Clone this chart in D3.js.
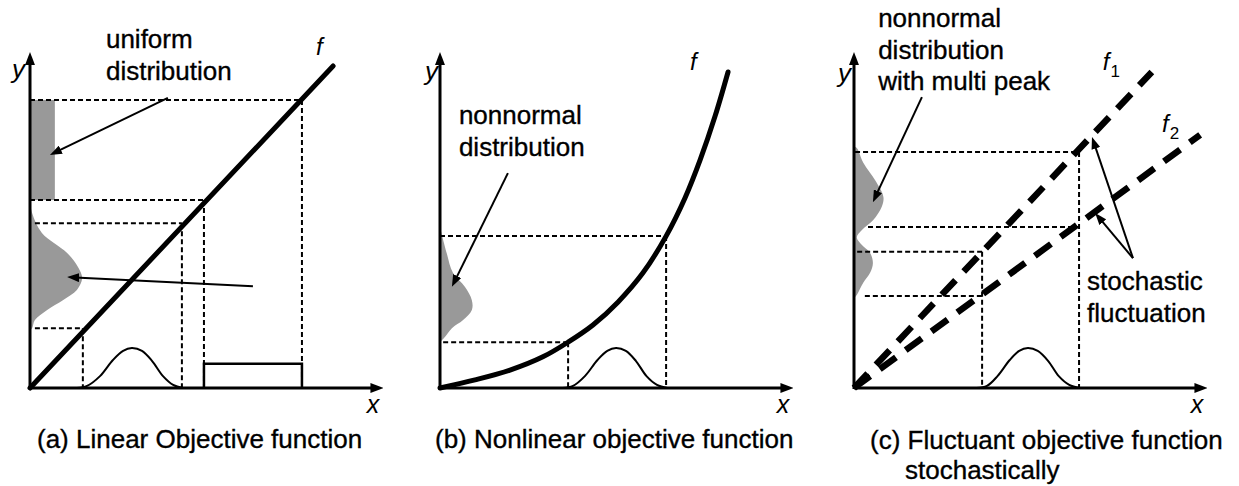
<!DOCTYPE html>
<html>
<head>
<meta charset="utf-8">
<script src="https://cdn.jsdelivr.net/npm/d3@7"></script>
<style>
  body { margin: 0; background: #fff; }
  text { font-family: "Liberation Sans", Arial, sans-serif; fill: #000; }
  text.heavy { stroke: #000; stroke-width: 0.35px; }
</style>
</head>
<body>
<svg id="chart"></svg>
<script>
// ---- data (panel units: 0..10 on both axes) ----
// (a) linear objective function
const fLineA = [[0, 0], [8.66, 9.2]];
const uniformYA = [5.37, 8.23, 0.71];          // y from, y to, density width
const bellYA = [[5.37, 0], [5.0, 0.06], [4.43, 0.34], [3.86, 1.06], [3.46, 1.37], [3.14, 1.49],
                [2.8, 1.34], [2.51, 0.94], [2.23, 0.49], [1.94, 0.14], [1.71, 0.06], [1.66, 0]];
const bellXA = [[1.34, 0], [1.63, 0.06], [2.0, 0.34], [2.37, 0.8], [2.66, 1.06], [2.91, 1.14],
                [3.2, 1.06], [3.49, 0.77], [3.8, 0.34], [4.09, 0.09], [4.37, 0]];
const uniformXA = [4.97, 7.77, 0.69];          // x from, x to, density height
const guidesA = [[7.77, 8.23, 0], [4.97, 5.37, 0], [4.34, 4.71, 0.14], [1.51, 1.71, 0.14]]; // x, y, start
const arrowsA = [[3.94, 8.29, 0.57, 6.66], [6.37, 2.91, 1.06, 3.17]];

// (b) nonlinear objective function
const curveB = [[0, 0], [1, 0.23], [2, 0.51], [2.94, 0.89], [3.66, 1.31], [4.37, 1.8], [5.09, 2.46],
                [5.8, 3.29], [6.46, 4.34], [7, 5.43], [7.43, 6.51], [7.86, 7.77], [8.23, 9.03]];
const bellYB = [[4.6, 0], [3.86, 0.19], [3.29, 0.37], [2.89, 0.71], [2.51, 0.91], [2.23, 0.91],
                [1.94, 0.66], [1.71, 0.34], [1.46, 0.14], [1.31, 0]];
const bellXB = [[3.5, 0], [3.8, 0.06], [4.14, 0.34], [4.5, 0.8], [4.78, 1.06], [5.03, 1.14],
                [5.31, 1.06], [5.6, 0.77], [5.9, 0.34], [6.2, 0.09], [6.5, 0]];
const guidesB = [[6.46, 4.34, 0], [3.66, 1.31, 0.09]];
const arrowsB = [[1.94, 6.14, 0.34, 2.89]];

// (c) fluctuant objective function
const f1C = [[0, 0], [8.51, 9.03]];
const f2C = [[0, 0], [9.89, 7.23]];
const bellYC = [[6.9, 0], [6.86, 0.08], [6.43, 0.27], [5.94, 0.6], [5.46, 0.84], [5.17, 0.79],
                [4.8, 0.55], [4.51, 0.22], [4.31, 0.08], [4.09, 0.22], [3.86, 0.46], [3.57, 0.54],
                [3.29, 0.46], [3.0, 0.26], [2.66, 0.08], [2.57, 0]];
const bellXC = [[3.5, 0], [3.8, 0.06], [4.1, 0.34], [4.45, 0.8], [4.72, 1.06], [4.97, 1.14],
                [5.25, 1.06], [5.55, 0.77], [5.85, 0.34], [6.15, 0.09], [6.45, 0]];
const guidesC = [[6.43, 6.74, 0.03], [6.43, 4.6, 0.4], [3.66, 3.89, 0.09], [3.66, 2.63, 0.31]];
const arrowsC = [[1.94, 8.31, 0.54, 5.31], [7.97, 3.71, 6.8, 7.17], [7.97, 3.71, 6.89, 5.0]];

// text labels: [x, y, lines...]
const notesA = [[2.17, 9.71, "uniform", "distribution"]];
const notesB = [[0.54, 7.54, "nonnormal", "distribution"]];
const notesC = [[0.69, 10.31, "nonnormal", "distribution", "with multi peak"],
                [6.66, 2.8, "stochastic", "fluctuation"]];
// captions: [x, y, lines as [dx, text]]
const captions = [
  [37, 448, [[0, "(a) Linear Objective function"]]],
  [435, 448, [[0, "(b) Nonlinear objective function"]]],
  [870, 449, [[0, "(c) Fluctuant objective function"], [35, "stochastically"]]]
];

const width = 1239;
const height = 486;

const svg = d3.select("#chart")
    .attr("width", width)
    .attr("height", height);

svg.append("rect").attr("width", width).attr("height", height).attr("fill", "#fff");

const defs = svg.append("defs");
defs.append("marker")
    .attr("id", "axisHead")
    .attr("markerUnits", "userSpaceOnUse")
    .attr("markerWidth", 13).attr("markerHeight", 10)
    .attr("refX", 4).attr("refY", 5)
    .attr("orient", "auto")
  .append("path").attr("d", "M0,0 L13,5 L0,10 Z").attr("fill", "#000");
defs.append("marker")
    .attr("id", "noteHead")
    .attr("markerUnits", "userSpaceOnUse")
    .attr("markerWidth", 12).attr("markerHeight", 9)
    .attr("refX", 4).attr("refY", 4.5)
    .attr("orient", "auto")
  .append("path").attr("d", "M0,0 L12,4.5 L0,9 Z").attr("fill", "#000");

function drawPanel(ox, p) {
  const xs = d3.scaleLinear().domain([0, 10]).range([ox, ox + 350]);
  const ys = d3.scaleLinear().domain([0, 10]).range([388, 38]);
  const g = svg.append("g");

  // gray densities on the y axis
  if (p.uniformY) {
    g.append("rect")
      .attr("x", xs(0)).attr("y", ys(p.uniformY[1]))
      .attr("width", xs(p.uniformY[2]) - xs(0))
      .attr("height", ys(p.uniformY[0]) - ys(p.uniformY[1]))
      .attr("fill", "#999");
  }
  g.append("path")
    .datum(p.bellY)
    .attr("fill", "#999")
    .attr("d", d3.area().curve(d3.curveCatmullRom)
      .y(d => ys(d[0])).x0(xs(0)).x1(d => xs(d[1])));

  // dashed guides: horizontal ones, then one vertical per x from its highest point
  const dashed = sel => sel.attr("stroke", "#000").attr("stroke-width", 2).attr("stroke-dasharray", "5,3");
  p.guides.forEach(([gx, gy, s]) => {
    g.append("line")
      .attr("x1", xs(s)).attr("y1", ys(gy)).attr("x2", xs(gx)).attr("y2", ys(gy))
      .call(dashed);
  });
  d3.rollups(p.guides, v => d3.max(v, d => d[1]), d => d[0]).forEach(([gx, top]) => {
    g.append("line")
      .attr("x1", xs(gx)).attr("y1", ys(top)).attr("x2", xs(gx)).attr("y2", ys(0))
      .call(dashed);
  });

  // density on the x axis
  g.append("path")
    .datum(p.bellX)
    .attr("fill", "none").attr("stroke", "#000").attr("stroke-width", 2)
    .attr("d", d3.line().curve(d3.curveCatmullRom).x(d => xs(d[0])).y(d => ys(d[1])));
  if (p.uniformX) {
    const [a, b, h] = p.uniformX;
    g.append("path")
      .attr("fill", "none").attr("stroke", "#000").attr("stroke-width", 2.5)
      .attr("d", `M${xs(a)},${ys(0)}V${ys(h)}H${xs(b)}V${ys(0)}`);
  }

  // axes
  g.append("line")
    .attr("x1", xs(0)).attr("y1", ys(0)).attr("x2", xs(10.07) - 8).attr("y2", ys(0))
    .attr("stroke", "#000").attr("stroke-width", 3).attr("marker-end", "url(#axisHead)");
  g.append("line")
    .attr("x1", xs(0)).attr("y1", ys(0) + 1).attr("x2", xs(0)).attr("y2", ys(9.57) + 8)
    .attr("stroke", "#000").attr("stroke-width", 3).attr("marker-end", "url(#axisHead)");

  // objective functions
  p.funcs.forEach(f => {
    g.append("path")
      .datum(f.data)
      .attr("fill", "none").attr("stroke", "#000")
      .attr("stroke-width", f.dash ? 6.5 : 5)
      .attr("stroke-linecap", f.dash ? "butt" : "round")
      .attr("stroke-dasharray", f.dash || null)
      .attr("d", d3.line().curve(d3.curveCatmullRom).x(d => xs(d[0])).y(d => ys(d[1])));
  });

  // annotation arrows
  p.arrows.forEach(([x1, y1, x2, y2]) => {
    const px1 = xs(x1), py1 = ys(y1), px2 = xs(x2), py2 = ys(y2);
    const len = Math.hypot(px2 - px1, py2 - py1);
    const ux = (px2 - px1) / len, uy = (py2 - py1) / len;
    g.append("line")
      .attr("x1", px1).attr("y1", py1)
      .attr("x2", px2 - ux * 8).attr("y2", py2 - uy * 8)
      .attr("stroke", "#000").attr("stroke-width", 2).attr("marker-end", "url(#noteHead)");
  });

  // notes
  p.notes.forEach(([nx, ny, ...lines]) => {
    const t = g.append("text").attr("class", "heavy").attr("font-size", 26);
    lines.forEach((ln, i) => {
      t.append("tspan").attr("x", xs(nx)).attr("y", ys(ny) + i * 31.5).text(ln);
    });
  });

  // axis letters
  g.append("text").attr("x", p.yLab[0]).attr("y", p.yLab[1])
    .attr("font-size", 26).attr("font-style", "italic").text("y");
  g.append("text").attr("x", xs(9.62)).attr("y", ys(-0.72))
    .attr("font-size", 25).attr("font-style", "italic").text("x");

  // function labels
  p.fLabels.forEach(([fx, fy, sub]) => {
    const t = g.append("text").attr("x", xs(fx)).attr("y", ys(fy))
      .attr("font-size", 24).attr("font-style", "italic");
    t.append("tspan").text("f");
    if (sub) t.append("tspan").attr("font-size", 17).attr("font-style", "normal")
      .attr("dx", 1).attr("dy", 7).text(sub);
  });
}

drawPanel(30, {
  uniformY: uniformYA, bellY: bellYA, bellX: bellXA, uniformX: uniformXA,
  guides: guidesA, arrows: arrowsA, notes: notesA,
  funcs: [{ data: fLineA }], fLabels: [[8.17, 9.51]], yLab: [12, 78]
});
drawPanel(440, {
  bellY: bellYB, bellX: bellXB, guides: guidesB, arrows: arrowsB, notes: notesB,
  funcs: [{ data: curveB }], fLabels: [[7.14, 9.09]], yLab: [425, 80]
});
drawPanel(854, {
  bellY: bellYC, bellX: bellXC, guides: guidesC, arrows: arrowsC, notes: notesC,
  funcs: [{ data: f1C, dash: "20,12" }, { data: f2C, dash: "20,12" }],
  fLabels: [[7.11, 9.09, "1"], [8.8, 7.31, "2"]], yLab: [838, 82]
});

// captions
const cap = svg.selectAll(".caption")
  .data(captions)
  .enter()
  .append("text")
  .attr("class", "caption heavy")
  .attr("font-size", 26);
cap.selectAll("tspan")
  .data(d => d[2].map((ln, i) => ({ x: d[0] + ln[0], y: d[1] + i * 30, text: ln[1] })))
  .enter()
  .append("tspan")
  .attr("x", d => d.x)
  .attr("y", d => d.y)
  .text(d => d.text);
</script>
</body>
</html>
